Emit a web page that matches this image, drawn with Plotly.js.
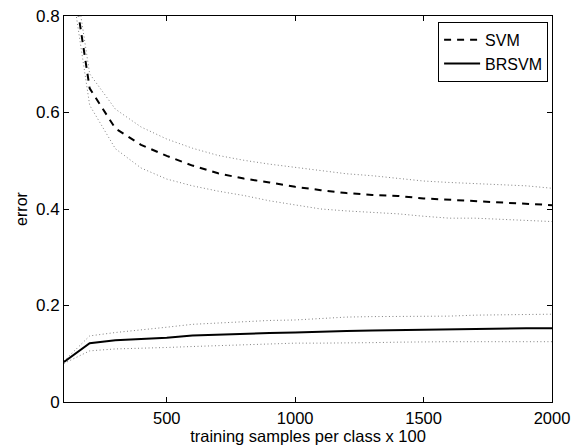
<!DOCTYPE html>
<html>
<head>
<meta charset="utf-8">
<script src="https://cdn.plot.ly/plotly-3.0.1.min.js"></script>
<style>html,body{margin:0;padding:0;background:#fff;}#chart{width:576px;height:446px;}</style>
</head>
<body>
<div id="chart"></div>
<script>
const samples = [100,200,300,400,500,600,700,800,900,1000,1100,1200,1300,1400,1500,1600,1700,1800,1900,2000];
const svmMean  = [1.00,0.650,0.567,0.533,0.510,0.490,0.474,0.463,0.455,0.446,0.439,0.433,0.429,0.427,0.422,0.419,0.417,0.414,0.411,0.408];
const svmUpper = [1.03,0.680,0.607,0.570,0.545,0.526,0.511,0.501,0.493,0.486,0.480,0.473,0.469,0.464,0.458,0.455,0.453,0.451,0.448,0.443];
const svmLower = [0.97,0.615,0.525,0.485,0.462,0.448,0.437,0.428,0.417,0.409,0.400,0.396,0.393,0.390,0.385,0.381,0.381,0.379,0.376,0.374];
const brMean   = [0.083,0.122,0.128,0.131,0.133,0.138,0.140,0.142,0.143,0.144,0.146,0.147,0.148,0.149,0.150,0.150,0.151,0.152,0.153,0.153];
const brUpper  = [0.085,0.137,0.144,0.149,0.155,0.161,0.164,0.167,0.169,0.170,0.173,0.176,0.177,0.177,0.178,0.178,0.180,0.181,0.182,0.182];
const brLower  = [0.080,0.106,0.110,0.111,0.113,0.115,0.117,0.118,0.120,0.122,0.122,0.122,0.123,0.124,0.125,0.125,0.125,0.125,0.125,0.125];
const xTicks = [500,1000,1500,2000];
const yTicks = [0,0.2,0.4,0.6,0.8];
const yTickText = ['0','0.2','0.4','0.6','0.8'];

const FONT = 'Liberation Sans, Arial, Helvetica, sans-serif';
const dotted = {color:'#808080', width:1, dash:'1px,2.5px'};

const traces = [
  {x:samples, y:svmUpper, mode:'lines', line:dotted, showlegend:false, hoverinfo:'skip'},
  {x:samples, y:svmLower, mode:'lines', line:dotted, showlegend:false, hoverinfo:'skip'},
  {x:samples, y:brUpper, mode:'lines', line:dotted, showlegend:false, hoverinfo:'skip'},
  {x:samples, y:brLower, mode:'lines', line:dotted, showlegend:false, hoverinfo:'skip'},
  {x:samples, y:svmMean, mode:'lines', name:'SVM', line:{color:'#000', width:2, dash:'7px,6px'}},
  {x:samples, y:brMean, mode:'lines', name:'BRSVM', line:{color:'#000', width:2}}
];

const layout = {
  width:576, height:446,
  margin:{l:64, r:24, t:16, b:44, pad:0},
  paper_bgcolor:'#fff', plot_bgcolor:'#fff',
  font:{family:FONT, size:16, color:'#000'},
  showlegend:true,
  legend:{x:0.992, y:0.985, xanchor:'right', yanchor:'top', bgcolor:'#fff',
          bordercolor:'#000', borderwidth:1, font:{family:FONT, size:16, color:'#000'},
          tracegroupgap:0, itemwidth:36},
  xaxis:{range:[100,2000], tickmode:'array', tickvals:xTicks, ticktext:xTicks.map(String),
         ticks:'inside', ticklen:5, tickcolor:'#000', tickwidth:1, ticklabelstandoff:1,
         showline:true, linecolor:'#000', linewidth:1, mirror:'ticks',
         showgrid:false, zeroline:false, automargin:false,
         tickfont:{family:FONT, size:16.5, color:'#000'},
         title:{text:'training samples per class x 100', font:{family:FONT, size:16.5, color:'#000'}, standoff:3}},
  yaxis:{range:[0,0.8], tickmode:'array', tickvals:yTicks, ticktext:yTickText,
         ticks:'inside', ticklen:5, tickcolor:'#000', tickwidth:1,
         showline:true, linecolor:'#000', linewidth:1, mirror:'ticks',
         showgrid:false, zeroline:false, automargin:false,
         tickfont:{family:FONT, size:17, color:'#000'},
         title:{text:'error', font:{family:FONT, size:16, color:'#000'}, standoff:4}}
};

Plotly.newPlot('chart', traces, layout, {staticPlot:true, displayModeBar:false});
</script>
</body>
</html>
